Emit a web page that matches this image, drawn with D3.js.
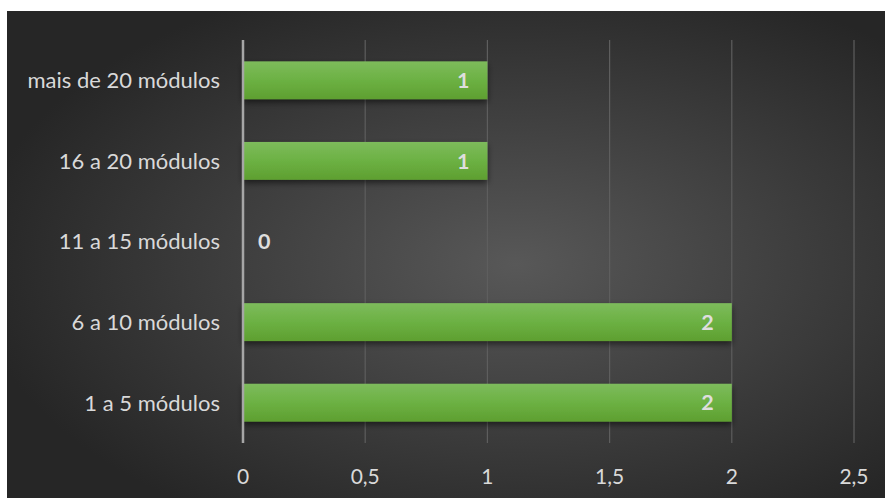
<!DOCTYPE html>
<html><head><meta charset="utf-8">
<script src="https://cdn.jsdelivr.net/npm/d3@7"></script>
<style>html,body{margin:0;padding:0;background:#fff;overflow:hidden}</style>
</head><body>
<svg id="c" width="885" height="498"></svg>
<script>
const categories = ["mais de 20 módulos","16 a 20 módulos","11 a 15 módulos","6 a 10 módulos","1 a 5 módulos"];
const values = [1,1,0,2,2];
const tickValues = [0,0.5,1,1.5,2,2.5];
const tickLabels = ["0","0,5","1","1,5","2","2,5"];

const svg = d3.select("#c");
const font = "Lato, 'Open Sans', sans-serif";
const defs = svg.append("defs");
const rg = defs.append("radialGradient").attr("id","bg").attr("cx","58%").attr("cy","52%").attr("r","62%");
rg.append("stop").attr("offset","0%").attr("stop-color","#585858");
rg.append("stop").attr("offset","100%").attr("stop-color","#262626");
const bgBar = defs.append("linearGradient").attr("id","bar").attr("x1",0).attr("y1",0).attr("x2",0).attr("y2",1);
bgBar.append("stop").attr("offset","0%").attr("stop-color","#7dbb5c");
bgBar.append("stop").attr("offset","50%").attr("stop-color","#6cb143");
bgBar.append("stop").attr("offset","100%").attr("stop-color","#5e9f30");
const f = defs.append("filter").attr("id","sh").attr("x","-10%").attr("y","-30%").attr("width","120%").attr("height","180%");
f.append("feDropShadow").attr("dx",0).attr("dy",3).attr("stdDeviation",3).attr("flood-color","#000").attr("flood-opacity",0.55);

svg.append("rect").attr("x",7).attr("y",11).attr("width",878).attr("height",487).attr("fill","url(#bg)");

const x = d3.scaleLinear().domain([0,2.5]).range([243,854]);
const y = d3.scaleBand().domain(categories).range([40,443]).paddingInner(0.53).paddingOuter(0.265);

// gridlines
svg.append("g").selectAll("line").data(tickValues.slice(1)).join("line")
  .attr("x1",d=>x(d)).attr("x2",d=>x(d)).attr("y1",40).attr("y2",443)
  .attr("stroke","#5e5e5e").attr("stroke-width",1.2);

// bars
svg.append("g").selectAll("rect").data(values).join("rect")
  .attr("x",x(0)).attr("y",(d,i)=>y(categories[i]))
  .attr("width",d=>x(d)-x(0)).attr("height",y.bandwidth())
  .attr("fill","url(#bar)").attr("filter","url(#sh)")
  .style("display",d=>d>0?null:"none");

// axis line
svg.append("line").attr("x1",x(0)).attr("x2",x(0)).attr("y1",40).attr("y2",443)
  .attr("stroke","#a6a6a6").attr("stroke-width",2.5);

// data labels
svg.append("g").selectAll("text").data(values).join("text")
  .attr("x",d=>d>0?x(d)-18:x(0)+15)
  .attr("y",(d,i)=>y(categories[i])+y.bandwidth()/2)
  .attr("dy","0.36em")
  .attr("text-anchor",d=>d>0?"end":"start")
  .attr("font-family",font).attr("font-weight","bold").attr("font-size",21.5)
  .attr("fill","#dedede").text(d=>d);

// category labels
svg.append("g").selectAll("text").data(categories).join("text")
  .attr("x",220).attr("y",d=>y(d)+y.bandwidth()/2).attr("dy","0.36em")
  .attr("text-anchor","end").attr("font-family",font).attr("font-size",22)
  .attr("fill","#d9d9d9").text(d=>d);

// x tick labels
svg.append("g").selectAll("text").data(tickValues).join("text")
  .attr("x",d=>x(d)).attr("y",476).attr("dy","0.36em")
  .attr("text-anchor","middle").attr("font-family",font).attr("font-size",21)
  .attr("fill","#d9d9d9").text((d,i)=>tickLabels[i]);
</script>
</body></html>
